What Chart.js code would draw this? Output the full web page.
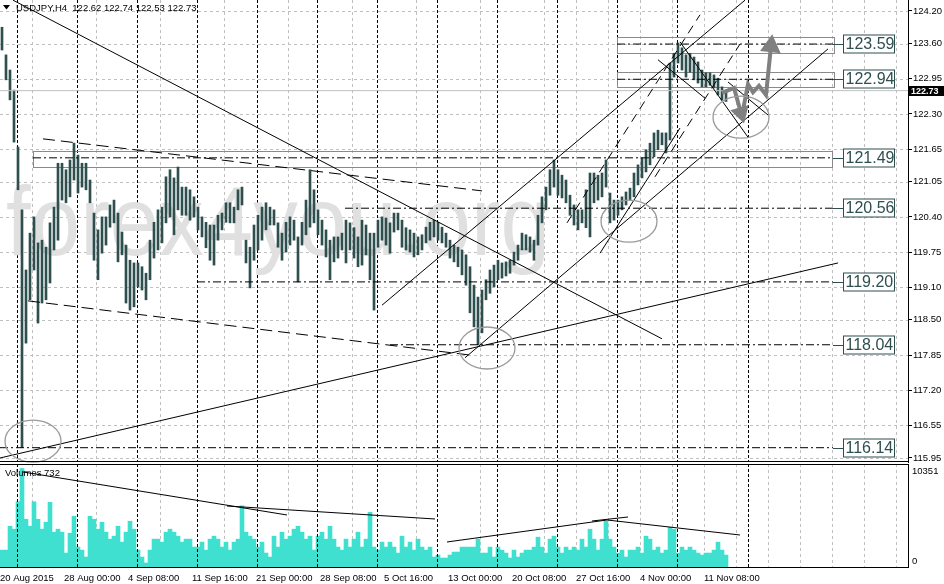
<!DOCTYPE html>
<html lang="en">
<head>
<meta charset="UTF-8">
<title>USDJPY,H4</title>
<script src="https://cdn.jsdelivr.net/npm/chart.js"></script>
<style>
  html, body { margin: 0; padding: 0; background: #fff; }
  #wrap { position: relative; width: 944px; height: 584px; overflow: hidden; }
  #wrap canvas { position: absolute; left: 0; }
  #priceChart { top: 0; }
  #volumeChart { top: 462px; }
</style>
</head>
<body>
<div id="wrap">
  <canvas id="priceChart" width="944" height="463"></canvas>
  <canvas id="volumeChart" width="944" height="122"></canvas>
</div>
<script>
const FONT = '"Liberation Sans", Arial, sans-serif';
const symbolTitle = 'USDJPY,H4  122.62 122.74 122.53 122.73';
const volLabel = 'Volumes 732';
const watermark = 'forex4you.org';
const lastPrice = 122.73;

// axes
const priceTicks = [115.95, 116.55, 117.20, 117.85, 118.50, 119.10, 119.75, 120.40, 121.05, 121.65, 122.30, 122.95, 123.60, 124.20];
const volTicks = [0, 10351];
const timeLabels = ['20 Aug 2015', '28 Aug 00:00', '4 Sep 08:00', '11 Sep 16:00', '21 Sep 00:00', '28 Sep 08:00',
  '5 Oct 16:00', '13 Oct 00:00', '20 Oct 08:00', '27 Oct 16:00', '4 Nov 00:00', '11 Nov 08:00'];
const timeTickIdx = [-0.5, 15.5, 31.5, 47.5, 63.5, 79.5, 95.5, 111.5, 127.5, 143.5, 159.5, 175.5];
const gridIdx = [7.5, 23.5, 39.5, 55.5, 71.5, 87.5, 103.5, 119.5, 135.5, 143.5, 151.5, 159.5, 167.5, 175.5, 183.5, 191.5, 199.5, 207.5, 215.5, 223.5];
const separatorIdx = [3.625, 18.625, 33.625, 48.625, 63.625, 78.625, 93.625, 108.625, 123.625, 138.625, 153.625, 168.625, 186.5];

// price bars (high / low)
const highs = [
  123.90,123.39,123.11,122.74,121.69,120.53,119.42,120.10,120.40,119.92,
  119.97,119.84,120.29,120.58,121.39,121.39,121.27,121.45,121.76,121.54,
  121.39,121.39,121.08,120.47,120.16,120.40,120.40,120.62,120.71,120.47,
  120.12,119.88,119.60,119.55,119.55,119.48,119.36,119.97,120.30,120.53,
  120.58,121.14,121.27,121.12,121.32,120.95,120.95,120.90,120.77,120.58,
  120.40,120.30,120.25,120.25,120.43,120.47,120.66,120.66,120.58,120.90,
  120.95,119.97,119.84,120.25,120.43,120.58,120.66,120.58,120.53,120.29,
  120.10,120.30,120.40,120.34,120.03,120.30,120.71,121.27,120.90,120.53,
  120.34,120.16,119.97,120.03,120.03,120.10,120.34,120.29,120.20,120.03,
  120.34,120.25,120.10,120.10,120.34,120.40,120.38,120.29,120.47,120.47,
  120.34,120.20,120.16,120.10,120.03,120.07,120.21,120.30,120.34,120.30,
  120.21,120.10,119.97,119.88,119.84,119.79,119.70,119.48,119.14,118.92,
  119.05,119.24,119.42,119.51,119.60,119.55,119.57,119.60,119.75,119.88,
  120.10,120.07,120.03,119.97,120.43,120.77,120.95,121.27,121.45,121.27,
  121.17,121.08,120.80,120.62,120.53,120.53,120.90,121.21,121.21,121.17,
  121.21,121.45,120.84,120.71,120.71,120.77,120.86,120.93,121.21,121.36,
  121.49,121.64,121.76,121.95,122.00,121.95,121.95,123.24,123.42,123.61,
  123.52,123.39,123.42,123.35,123.26,123.11,123.06,123.06,123.02,122.96,
  122.80,122.74];
const lows = [
  123.48,122.93,122.56,121.78,120.90,116.14,118.07,118.87,119.42,118.44,
  118.81,118.87,119.18,119.79,119.97,120.71,120.66,120.77,121.08,120.84,
  120.95,120.90,120.66,119.60,119.24,119.73,119.88,120.21,120.29,119.57,
  119.70,118.81,118.68,118.74,119.11,119.05,118.87,119.24,119.64,119.79,
  119.92,120.29,120.40,120.07,120.53,120.43,120.43,120.34,120.40,120.16,
  120.03,119.83,119.60,119.51,119.97,120.16,120.30,120.29,120.29,120.53,
  120.62,119.55,119.09,119.60,119.79,119.97,120.16,120.25,120.25,119.84,
  119.60,119.75,119.88,119.97,119.20,119.88,120.07,120.21,120.29,120.07,
  119.88,119.66,119.24,119.57,119.64,119.79,119.55,119.79,119.64,119.48,
  119.51,119.70,119.24,118.68,119.84,119.97,119.88,119.73,120.12,120.16,
  119.84,119.79,119.75,119.66,119.70,119.79,119.92,119.97,120.03,119.97,
  119.92,119.84,119.64,119.57,119.48,119.33,119.14,118.63,118.37,118.04,
  118.26,118.87,118.99,119.11,119.24,119.27,119.31,119.36,119.51,119.60,
  119.79,119.79,119.75,119.60,119.88,120.29,120.53,120.80,120.95,120.80,
  120.75,120.66,120.43,120.25,120.16,120.29,120.20,120.03,120.66,120.71,
  120.77,120.95,120.29,120.34,120.43,120.53,120.62,120.71,120.77,120.99,
  121.12,121.23,121.36,121.51,121.64,121.73,121.58,121.82,122.98,123.24,
  123.11,122.98,123.07,122.93,122.87,122.80,122.80,122.83,122.78,122.65,
  122.56,122.53];
const volumes = [
  1700,1700,4100,3800,6560,9900,4800,4100,6560,4800,
  3800,4500,6500,3500,3800,3500,1400,3400,5100,2000,
  1700,1000,5100,4800,3800,4500,3500,2800,3100,4100,
  2500,3500,4600,3800,1700,1000,400,1700,2800,2800,
  2500,3500,3800,3500,3100,2500,2800,2800,2000,2000,
  2500,1700,2800,3100,2800,2000,2500,1700,2500,2800,
  6150,3500,3100,2800,2000,2500,1400,1000,3100,2000,
  3500,2800,3100,3800,4100,3500,2800,3100,1700,3100,
  3500,2800,4100,2800,2000,1700,2800,2000,2800,3500,
  2000,2800,5500,2000,1700,2500,2000,2500,2000,1400,
  3100,2000,2500,1700,2800,2000,1700,2000,1000,1200,
  900,900,1200,1500,1500,2000,2000,2000,2000,2800,
  1400,1400,2000,1000,2000,1700,1400,900,1700,1000,
  1400,1700,1700,2000,3000,2000,1400,2800,3100,2000,
  1400,2000,1700,2000,1700,2800,2000,3800,2800,1700,
  2800,4600,2800,2000,1400,1700,1000,1700,1700,2000,
  1400,3100,2800,1700,2000,1400,1700,4000,3800,1400,
  2000,1700,2000,1700,1400,1200,1400,1400,1700,2500,
  1700,1200];

// drawn objects, in (bar index, price)
const levels = [123.59, 122.94, 121.49, 120.56, 119.20, 118.04, 116.14];
const levelStart = [153.75, 153.75, 7.75, 85.75, 48.75, 97, -0.5];
const levelEnd = 207.75;
const zones = [[153.75, 208, 123.72, 123.42], [153.75, 208, 123.07, 122.80], [7.75, 207.5, 121.62, 121.32]];
const circles = [[7.75, 116.26], [121.25, 117.98], [156.75, 120.32], [184.75, 122.24]];
const trendSolid = [
  [[2.75, 124.40], [165, 118.15]],
  [[-0.5, 115.95], [209, 119.55]],
  [[115.75, 117.80], [206.5, 123.50]],
  [[95, 118.77], [185.75, 124.40]],
  [[149.5, 119.73], [169.5, 122.04]],
  [[169.5, 123.63], [186.5, 121.87]],
  [[164, 123.30], [175.75, 122.59]],
  [[181.5, 122.89], [191.5, 122.28]]
];
const trendLongDash = [
  [[10.25, 121.84], [120, 120.88]],
  [[6.5, 118.85], [117, 117.85]]
];
const trendSteepDash = [
  [[141.25, 120.29], [174.5, 124.13]],
  [[163.25, 121.14], [184.5, 123.59]]
];
const arrowDown = [[180, 122.69], [183, 122.78], [184.75, 122.32]];
const arrowUp = [[185.25, 122.37], [186.5, 122.85], [187.75, 122.70], [189.25, 122.82], [191, 122.65], [192.25, 123.55]];
const volTrend = [
  [[5.25, 9548], [71.25, 5226]],
  [[56.25, 6130], [108.25, 4824]],
  [[111.25, 2513], [151.25, 4724]],
  [[147.5, 4623], [156.5, 5025]],
  [[151.25, 4724], [184.5, 3216]]
];

const X_MIN = -0.5, X_MAX = 226.5;
const Y_MIN = 115.876, Y_MAX = 124.403;

const crisp = v => Math.round(v) + 0.5;
function seg(ctx, x1, y1, x2, y2) {
  ctx.beginPath(); ctx.moveTo(x1, y1); ctx.lineTo(x2, y2); ctx.stroke();
}

function lineSet(pts, color, width, dash) {
  return {
    type: 'line', data: pts.map(p => ({ x: p[0], y: p[1] })),
    borderColor: color, backgroundColor: color, borderWidth: width, borderDash: dash || [],
    pointRadius: 0, pointHoverRadius: 0, fill: false, tension: 0, order: 1
  };
}

function arrowSet(pts, rot, r) {
  const ds = lineSet(pts, '#808080', 4);
  ds.pointRadius = pts.map((p, i) => i === pts.length - 1 ? r : 0);
  ds.pointStyle = 'triangle';
  ds.pointRotation = rot;
  ds.pointBackgroundColor = '#808080';
  ds.pointBorderColor = '#808080';
  ds.borderJoinStyle = 'miter';
  ds.order = 0;
  return ds;
}

function drawVerticals(ctx, a, x, idx, color, dash) {
  ctx.strokeStyle = color;
  ctx.setLineDash(dash);
  idx.forEach(v => { const px = crisp(x.getPixelForValue(v)); seg(ctx, px, a.top, px, a.bottom); });
  ctx.setLineDash([]);
}

const pricePlugin = {
  id: 'priceDecor',
  beforeDatasetsDraw(chart) {
    const { ctx, chartArea: a, scales: { x, y } } = chart;
    ctx.save();
    ctx.beginPath(); ctx.rect(a.left, a.top, a.right - a.left, a.bottom - a.top); ctx.clip();
    ctx.lineWidth = 1;
    // grid
    ctx.strokeStyle = '#c0c0c0';
    ctx.setLineDash([3, 3]);
    priceTicks.forEach(v => { const py = crisp(y.getPixelForValue(v)); seg(ctx, a.left, py, a.right, py); });
    drawVerticals(ctx, a, x, gridIdx, '#c0c0c0', [3, 3]);
    drawVerticals(ctx, a, x, separatorIdx, '#000', [3, 2]);
    // watermark
    ctx.fillStyle = '#e0e0e0';
    ctx.font = '98px ' + FONT;
    ctx.textBaseline = 'alphabetic';
    const w = ctx.measureText(watermark).width;
    ctx.save();
    ctx.translate(6, 255);
    ctx.scale(544 / w, 1);
    ctx.fillText(watermark, 0, 0);
    ctx.restore();
    // zones
    ctx.strokeStyle = '#8a8a8a';
    zones.forEach(z => {
      const x1 = crisp(x.getPixelForValue(z[0])), x2 = crisp(x.getPixelForValue(z[1]));
      const y1 = crisp(y.getPixelForValue(z[2])), y2 = crisp(y.getPixelForValue(z[3]));
      ctx.strokeRect(x1, y1, x2 - x1, y2 - y1);
    });
    ctx.restore();
  },
  afterDatasetsDraw(chart) {
    const { ctx, chartArea: a, scales: { x, y } } = chart;
    ctx.save();
    // circles
    ctx.strokeStyle = '#9a9a9a';
    ctx.lineWidth = 1.3;
    circles.forEach(c => {
      ctx.beginPath();
      ctx.ellipse(x.getPixelForValue(c[0]), y.getPixelForValue(c[1]), 28, 21, 0, 0, Math.PI * 2);
      ctx.stroke();
    });
    // level labels
    ctx.lineWidth = 1;
    ctx.font = '16px ' + FONT;
    ctx.textBaseline = 'middle';
    ctx.textAlign = 'left';
    const xe = Math.round(x.getPixelForValue(levelEnd));
    levels.forEach(v => {
      const py = crisp(y.getPixelForValue(v));
      ctx.strokeStyle = '#2f4f4f';
      seg(ctx, xe, py, 844, py);
      ctx.fillStyle = '#fff';
      ctx.fillRect(843.5, py - 9.5, 51, 18);
      ctx.strokeRect(843.5, py - 9.5, 51, 18);
      ctx.fillStyle = '#2f4f4f';
      ctx.fillText(v.toFixed(2), 845.5, py + 0.5);
    });
    // last price tag
    const lp = y.getPixelForValue(lastPrice);
    ctx.fillStyle = '#000';
    ctx.fillRect(909, Math.round(lp) - 5, 35, 10);
    ctx.fillStyle = '#fff';
    ctx.font = 'bold 9px ' + FONT;
    ctx.fillText(lastPrice.toFixed(2), 911, Math.round(lp) + 0.5);
    // title
    ctx.fillStyle = '#000';
    ctx.beginPath(); ctx.moveTo(3, 5); ctx.lineTo(10, 5); ctx.lineTo(6.5, 9.5); ctx.closePath(); ctx.fill();
    ctx.font = '9.5px ' + FONT;
    ctx.fillText(symbolTitle, 16, 8);
    // bottom border
    ctx.strokeStyle = '#000';
    seg(ctx, a.left, a.bottom - 0.5, a.right, a.bottom - 0.5);
    ctx.restore();
  }
};

const volumePlugin = {
  id: 'volumeDecor',
  beforeDatasetsDraw(chart) {
    const { ctx, chartArea: a, scales: { x } } = chart;
    ctx.save();
    ctx.lineWidth = 1;
    drawVerticals(ctx, a, x, gridIdx, '#c0c0c0', [3, 3]);
    ctx.restore();
  },
  afterDatasetsDraw(chart) {
    const { ctx, chartArea: a, scales: { x, y } } = chart;
    ctx.save();
    ctx.lineWidth = 1;
    drawVerticals(ctx, a, x, separatorIdx, '#000', [3, 2]);
    ctx.strokeStyle = '#000';
    seg(ctx, a.left, a.top + 0.5, a.right, a.top + 0.5);
    seg(ctx, a.left, a.bottom + 0.5, a.right, a.bottom + 0.5);
    ctx.fillStyle = '#000';
    ctx.font = '9.5px ' + FONT;
    ctx.textBaseline = 'middle';
    ctx.textAlign = 'left';
    ctx.fillText(volLabel, 5, a.top + 9);
    ctx.fillText(String(volTicks[1]), a.right + 4, y.getPixelForValue(volTicks[1]) + 7);
    ctx.fillText(String(volTicks[0]), a.right + 4, y.getPixelForValue(volTicks[0]) - 6);
    ctx.restore();
  }
};

const noPad = s => { s.paddingTop = 0; s.paddingBottom = 0; s.paddingLeft = 0; s.paddingRight = 0; };

new Chart(document.getElementById('priceChart'), {
  type: 'bar',
  data: {
    datasets: [
      { type: 'bar', data: highs.map((h, i) => ({ x: i, y: [lows[i], h] })), backgroundColor: '#2f4f4f',
        borderWidth: 0, barThickness: 2, order: 5 },
      Object.assign(lineSet([[X_MIN, lastPrice], [X_MAX, lastPrice]], '#c0c0c0', 1), { order: 3 }),
      ...levels.map((v, i) => lineSet([[levelStart[i], v], [levelEnd, v]], '#000', 1, [8, 3, 2, 3])),
      ...trendSolid.map(t => lineSet(t, '#000', 1)),
      ...trendLongDash.map(t => lineSet(t, '#000', 1, [12, 6])),
      ...trendSteepDash.map(t => lineSet(t, '#000', 1, [9, 6])),
      arrowSet(arrowDown, 164, 7),
      arrowSet(arrowUp, 6, 8)
    ]
  },
  options: {
    responsive: false, animation: false, devicePixelRatio: 1, events: [],
    layout: { autoPadding: false, padding: { top: 0, left: 0, right: 0, bottom: 1 } },
    plugins: { legend: { display: false }, tooltip: { enabled: false } },
    scales: {
      x: { type: 'linear', min: X_MIN, max: X_MAX, offset: false, display: false, grid: { display: false, offset: false } },
      y: {
        position: 'right', min: Y_MIN, max: Y_MAX,
        afterBuildTicks: s => { s.ticks = priceTicks.map(v => ({ value: v })); },
        afterFit: s => { s.width = 36; noPad(s); },
        ticks: { autoSkip: false, padding: 1, color: '#000', font: { family: FONT, size: 9.5 }, callback: v => Number(v).toFixed(2) },
        grid: { drawOnChartArea: false, drawTicks: true, tickLength: 4, tickColor: '#000', color: '#000' },
        border: { display: true, color: '#000', width: 1 }
      }
    }
  },
  plugins: [pricePlugin]
});

new Chart(document.getElementById('volumeChart'), {
  type: 'bar',
  data: {
    datasets: [
      { type: 'bar', data: volumes.map((v, i) => ({ x: i, y: v })), backgroundColor: '#40e0d0',
        borderWidth: 0, barThickness: 4, order: 5 },
      ...volTrend.map(t => lineSet(t, '#000', 1))
    ]
  },
  options: {
    responsive: false, animation: false, devicePixelRatio: 1, events: [],
    layout: { autoPadding: false, padding: { top: 2, left: 0, right: 0, bottom: 0 } },
    plugins: { legend: { display: false }, tooltip: { enabled: false } },
    scales: {
      x: {
        type: 'linear', min: X_MIN, max: X_MAX, offset: false,
        grid: { display: false, offset: false }, border: { display: false },
        afterBuildTicks: s => { s.ticks = timeTickIdx.map(v => ({ value: v })); },
        afterFit: s => { s.height = 17; noPad(s); },
        ticks: { autoSkip: false, maxRotation: 0, minRotation: 0, align: 'start', padding: -2, color: '#000',
          font: { family: FONT, size: 9.5 }, callback: (v, i) => timeLabels[i] }
      },
      y: {
        position: 'right', min: volTicks[0], max: volTicks[1],
        ticks: { display: false }, grid: { display: false },
        border: { display: true, color: '#000', width: 1 },
        afterFit: s => { s.width = 36; noPad(s); }
      }
    }
  },
  plugins: [volumePlugin]
});
</script>
</body>
</html>
